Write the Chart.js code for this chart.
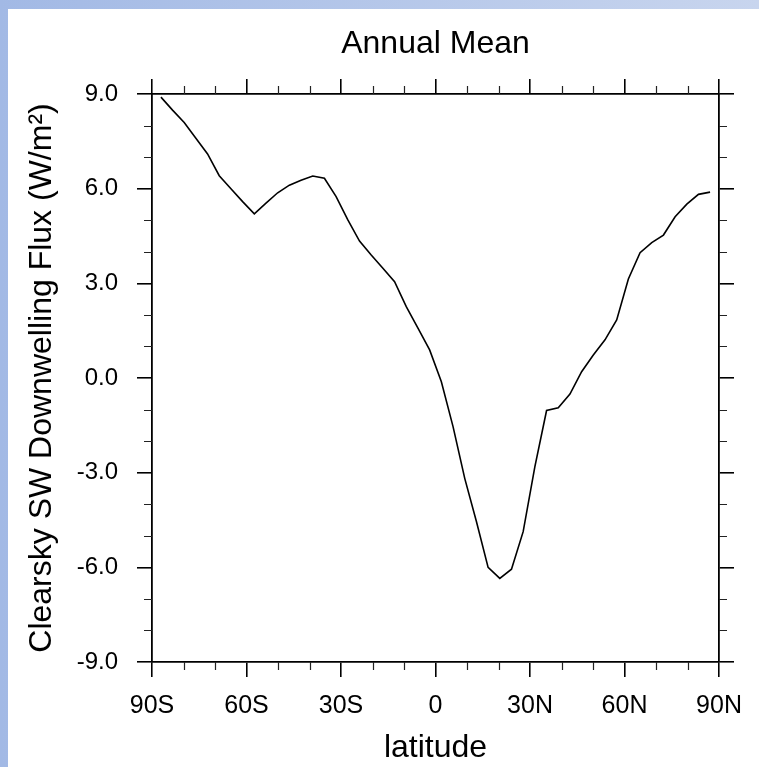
<!DOCTYPE html>
<html>
<head>
<meta charset="utf-8">
<script src="https://cdn.jsdelivr.net/npm/chart.js@4.4.1/dist/chart.umd.min.js"></script>
<style>
  html, body { margin: 0; padding: 0; background: #fff; }
  #wrap { position: relative; width: 759px; height: 767px; overflow: hidden;
          background: linear-gradient(to right, #a2b9e5, #c8d5ee); }
  #paper { position: absolute; left: 8px; top: 9px; right: 0; bottom: 0; background: #fff; }
  #clearsky-chart { position: absolute; left: 0; top: 0; }
</style>
</head>
<body>
<div id="wrap">
  <div id="paper"></div>
  <canvas id="clearsky-chart" width="759" height="767"></canvas>
</div>
<script>
// T31 gaussian latitudes
const latitudes = [-87.16, -83.48, -79.78, -76.07, -72.36, -68.65, -64.94, -61.23,
  -57.52, -53.81, -50.10, -46.39, -42.68, -38.97, -35.26, -31.55, -27.83, -24.12,
  -20.41, -16.70, -12.99, -9.28, -5.57, -1.86, 1.86, 5.57, 9.28, 12.99, 16.70,
  20.41, 24.12, 27.83, 31.55, 35.26, 38.97, 42.68, 46.39, 50.10, 53.81, 57.52,
  61.23, 64.94, 68.65, 72.36, 76.07, 79.78, 83.48, 87.16];

// annual mean clearsky SW downwelling flux (W/m2)
const fluxAnnual = [8.90, 8.49, 8.10, 7.60, 7.10, 6.41, 6.00, 5.59, 5.20, 5.54,
  5.87, 6.11, 6.27, 6.40, 6.33, 5.75, 5.01, 4.34, 3.90, 3.48, 3.05, 2.26, 1.58, 0.89,
  -0.12, -1.54, -3.18, -4.55, -6.00, -6.35, -6.06, -4.87, -2.81, -1.03, -0.94, -0.51,
  0.20, 0.73, 1.21, 1.84, 3.14, 3.97, 4.29, 4.53, 5.11, 5.51, 5.82, 5.89];

const xTickValues = [-90, -60, -30, 0, 30, 60, 90];
const xTickLabels = ['90S', '60S', '30S', '0', '30N', '60N', '90N'];
const yTickValues = [-9, -6, -3, 0, 3, 6, 9];
const yTickLabels = ['-9.0', '-6.0', '-3.0', '0.0', '3.0', '6.0', '9.0'];
const xMinorTicks = [-80, -70, -50, -40, -20, -10, 10, 20, 40, 50, 70, 80];
const yMinorTicks = [-8, -7, -5, -4, -2, -1, 1, 2, 4, 5, 7, 8];

const FONT = "'Liberation Sans', Arial, Helvetica, sans-serif";
const MAJOR_LEN = 15;
const MINOR_LEN = 8;

const ctx = document.getElementById("clearsky-chart");

// minor tick marks on all four sides
const minorTicks = {
  id: 'minorTicks',
  afterDraw(chart) {
    const c = chart.ctx;
    const a = chart.chartArea;
    const xs = chart.scales.x;
    const ys = chart.scales.y;
    c.save();
    c.strokeStyle = '#222';
    c.lineWidth = 1.2;
    c.beginPath();
    xMinorTicks.forEach(v => {
      const px = Math.round(xs.getPixelForValue(v)) + 0.5;
      c.moveTo(px, a.bottom); c.lineTo(px, a.bottom + MINOR_LEN);
      c.moveTo(px, a.top); c.lineTo(px, a.top - MINOR_LEN);
    });
    yMinorTicks.forEach(v => {
      const py = Math.round(ys.getPixelForValue(v)) + 0.5;
      c.moveTo(a.left, py); c.lineTo(a.left - MINOR_LEN, py);
      c.moveTo(a.right, py); c.lineTo(a.right + MINOR_LEN, py);
    });
    c.stroke();
    c.restore();
  }
};

function majorGrid() {
  return { drawOnChartArea: false, drawTicks: true, tickLength: MAJOR_LEN, color: '#000', lineWidth: 1.6 };
}
const axisBorder = { display: true, color: '#000', width: 1.8 };

const config = {
  type: 'line',
  data: {
    datasets: [{
      data: latitudes.map((lat, i) => ({ x: lat, y: fluxAnnual[i] })),
      borderColor: '#000',
      borderWidth: 1.6,
      pointRadius: 0,
      tension: 0,
      fill: false
    }]
  },
  options: {
    responsive: false,
    animation: false,
    devicePixelRatio: 1,
    layout: { padding: { left: 0, top: 0, right: 25, bottom: 0 } },
    plugins: {
      legend: { display: false },
      tooltip: { enabled: false },
      title: {
        display: true,
        fullSize: false,
        text: 'Annual Mean',
        color: '#000',
        font: { family: FONT, size: 32, weight: 'normal' },
        padding: { top: 25, bottom: 15.6 }
      }
    },
    scales: {
      x: {
        type: 'linear',
        position: 'bottom',
        min: -90,
        max: 90,
        afterFit: s => { s.height = 105; },
        grid: majorGrid(),
        border: axisBorder,
        ticks: {
          stepSize: 30,
          autoSkip: false,
          maxRotation: 0,
          padding: 14,
          color: '#000',
          font: { family: FONT, size: 25 },
          callback: v => {
            const i = xTickValues.indexOf(v);
            return i >= 0 ? xTickLabels[i] : '';
          }
        },
        title: {
          display: true,
          text: 'latitude',
          color: '#000',
          font: { family: FONT, size: 32 },
          padding: { top: 0, bottom: 0 }
        }
      },
      x2: {
        type: 'linear',
        position: 'top',
        min: -90,
        max: 90,
        afterFit: s => { s.height = MAJOR_LEN; },
        grid: majorGrid(),
        border: axisBorder,
        ticks: { stepSize: 30, display: false }
      },
      y: {
        type: 'linear',
        position: 'left',
        min: -9,
        max: 9,
        afterFit: s => { s.width = 152; },
        grid: majorGrid(),
        border: axisBorder,
        ticks: {
          stepSize: 3,
          autoSkip: false,
          padding: 19,
          color: '#000',
          font: { family: FONT, size: 24 },
          callback: v => {
            const i = yTickValues.indexOf(v);
            return i >= 0 ? yTickLabels[i] : '';
          }
        },
        title: {
          display: true,
          text: 'Clearsky SW Downwelling Flux (W/m\u00B2)',
          color: '#000',
          font: { family: FONT, size: 32 },
          padding: { top: 23, bottom: 0 }
        }
      },
      y2: {
        type: 'linear',
        position: 'right',
        min: -9,
        max: 9,
        afterFit: s => { s.width = MAJOR_LEN; },
        grid: majorGrid(),
        border: axisBorder,
        ticks: { stepSize: 3, display: false }
      }
    }
  },
  plugins: [minorTicks]
};

let fluxChart = new Chart(ctx, config);
</script>
</body>
</html>
